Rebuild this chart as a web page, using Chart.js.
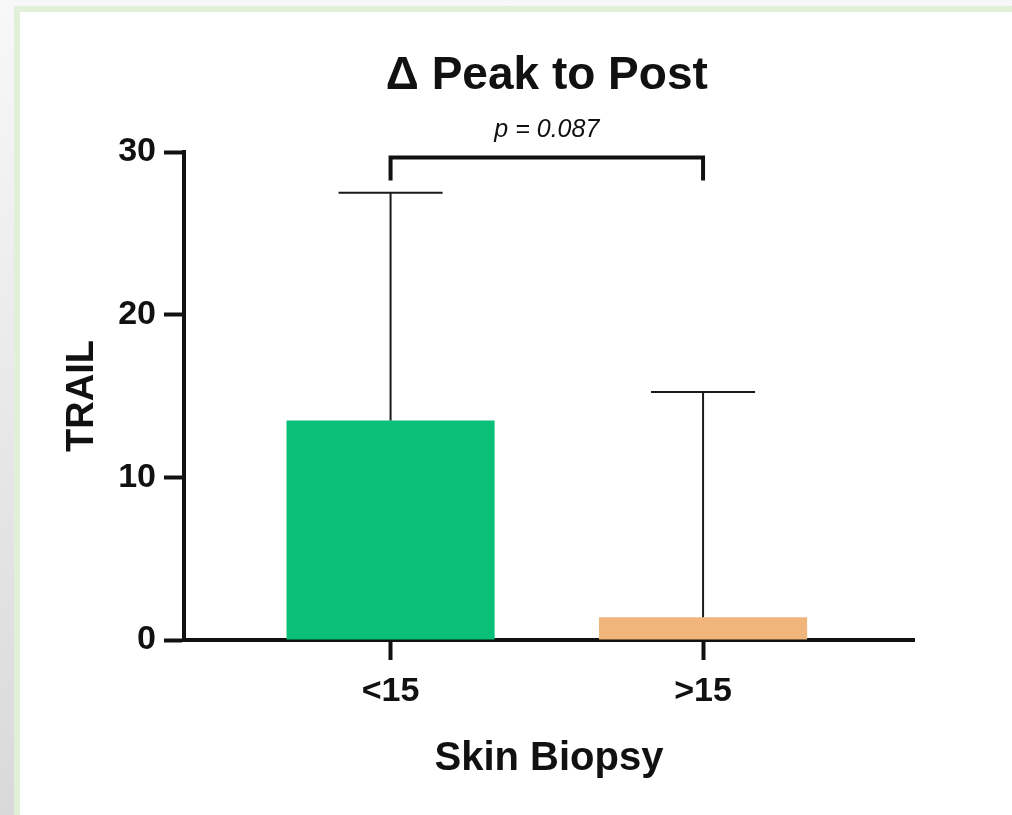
<!DOCTYPE html>
<html>
<head>
<meta charset="utf-8">
<title>Δ Peak to Post</title>
<script src="https://cdn.jsdelivr.net/npm/chart.js@4.4.1/dist/chart.umd.min.js"></script>
<style>
html, body { margin: 0; padding: 0; }
body {
    width: 1012px;
    height: 815px;
    overflow: hidden;
    position: relative;
    background: linear-gradient(#f8f8f8, #d9d9d9);
}
#frame {
    position: absolute;
    left: 14px;
    top: 6px;
    right: 0;
    bottom: 0;
    border-top: 6px solid #e2efd9;
    border-left: 6px solid #e2efd9;
    background: #fff;
}
#wrap {
    position: absolute;
    left: 0;
    top: 0;
    width: 992px;
    height: 803px;
}
</style>
</head>
<body>
<div id="frame">
    <div id="wrap"><canvas id="trailChart"></canvas></div>
</div>
<script>
// TRAIL change, peak to post, grouped by skin biopsy result
const categories = ["<15", ">15"];
const meanValues = [13.5, 1.4];
const sdValues = [14.0, 13.85];
const barColors = ["#0abf78", "#efb57b"];
const yTicks = [0, 10, 20, 30];
const chartTitle = "Δ Peak to Post";
const pValueText = "p = 0.087";

const FONT = "'Liberation Sans', Arial, sans-serif";
const INK = "#111";

// error bars (upper SD only), comparison bracket and the title
const annotations = {
    id: "annotations",
    afterDatasetsDraw(chart) {
        const { ctx, chartArea, scales: { x, y } } = chart;
        const bars = chart.getDatasetMeta(0).data;

        ctx.save();
        ctx.strokeStyle = "#1a1a1a";
        ctx.lineWidth = 2;
        bars.forEach((bar, i) => {
            const top = y.getPixelForValue(meanValues[i] + sdValues[i]);
            const half = bar.width / 4;
            ctx.beginPath();
            ctx.moveTo(bar.x, bar.y);
            ctx.lineTo(bar.x, top);
            ctx.moveTo(bar.x - half, top);
            ctx.lineTo(bar.x + half, top);
            ctx.stroke();
        });

        const x1 = x.getPixelForValue(1);
        const x2 = x.getPixelForValue(2);
        const bTop = chartArea.top + 5.5;
        const bEnd = chartArea.top + 28.5;
        ctx.strokeStyle = INK;
        ctx.lineWidth = 4;
        ctx.lineJoin = "miter";
        ctx.beginPath();
        ctx.moveTo(x1, bEnd);
        ctx.lineTo(x1, bTop);
        ctx.lineTo(x2, bTop);
        ctx.lineTo(x2, bEnd);
        ctx.stroke();

        const mid = (x1 + x2) / 2;
        ctx.fillStyle = INK;
        ctx.textAlign = "center";
        ctx.textBaseline = "middle";
        ctx.font = "italic 25px " + FONT;
        ctx.fillText(pValueText, mid, chartArea.top - 22);
        ctx.font = "bold 46px " + FONT;
        ctx.fillText(chartTitle, mid, chartArea.top - 76);
        ctx.restore();
    }
};

new Chart(document.getElementById("trailChart"), {
    type: "bar",
    data: {
        datasets: [{
            data: categories.map((c, i) => ({ x: i + 1, y: meanValues[i] })),
            backgroundColor: barColors,
            borderWidth: 0,
            barPercentage: 0.666,
            categoryPercentage: 1
        }]
    },
    options: {
        responsive: true,
        maintainAspectRatio: false,
        animation: false,
        layout: {
            padding: { top: 140, right: 98, bottom: 15, left: 0 }
        },
        plugins: {
            legend: { display: false },
            tooltip: { enabled: false }
        },
        scales: {
            x: {
                type: "linear",
                min: 0.339,
                max: 2.675,
                bounds: "data",
                offset: false,
                z: 1,
                afterBuildTicks: (scale) => {
                    scale.ticks = categories.map((c, i) => ({ value: i + 1 }));
                },
                afterFit: (scale) => { scale.height = 160; },
                grid: {
                    offset: false,
                    drawOnChartArea: false,
                    tickLength: 20,
                    tickWidth: 4,
                    tickColor: INK
                },
                border: { color: INK, width: 4 },
                ticks: {
                    color: INK,
                    padding: 11,
                    font: { family: FONT, size: 34, weight: "bold" },
                    callback: (value) => categories[Math.round(value) - 1] || ""
                },
                title: {
                    display: true,
                    text: "Skin Biopsy",
                    color: INK,
                    padding: { top: 0, bottom: 17 },
                    font: { family: FONT, size: 40, weight: "bold" }
                }
            },
            y: {
                min: 0,
                max: 30,
                afterBuildTicks: (scale) => {
                    scale.ticks = yTicks.map((v) => ({ value: v }));
                },
                afterFit: (scale) => { scale.width = 164; },
                grid: {
                    drawOnChartArea: false,
                    tickLength: 20,
                    tickWidth: 4,
                    tickColor: INK
                },
                border: { color: INK, width: 4 },
                ticks: {
                    color: INK,
                    padding: 8,
                    font: { family: FONT, size: 34, weight: "bold" }
                },
                title: {
                    display: true,
                    text: "TRAIL",
                    color: INK,
                    padding: { top: 40, bottom: 0 },
                    font: { family: FONT, size: 38, weight: "bold" }
                }
            }
        }
    },
    plugins: [annotations]
});
</script>
</body>
</html>
